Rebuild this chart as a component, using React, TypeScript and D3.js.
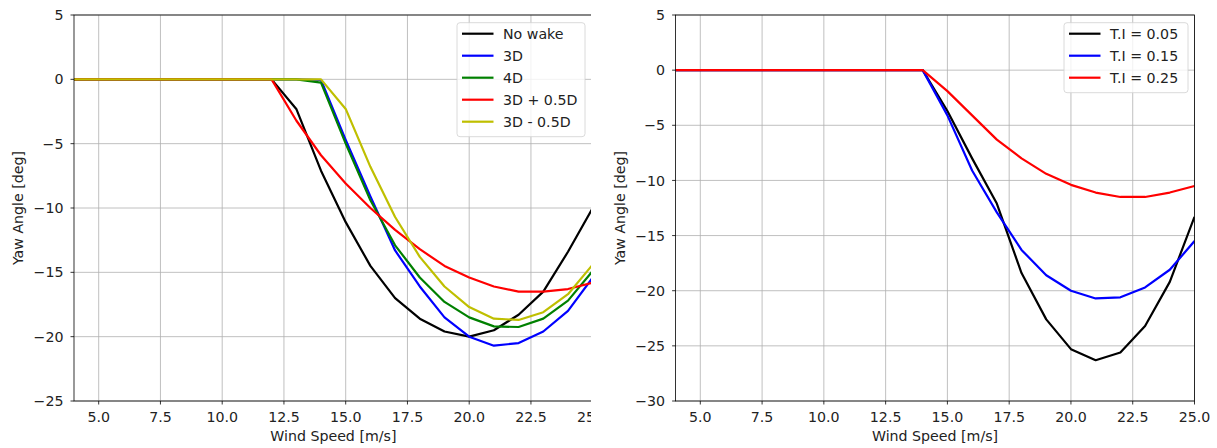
import React from "react";
import * as d3 from "d3";

const windSpeeds = [4, 5, 6, 7, 8, 9, 10, 11, 12, 13, 14, 15, 16, 17, 18, 19, 20, 21, 22, 23, 24, 25];

// Left panel series
const noWake = [0, 0, 0, 0, 0, 0, 0, 0, 0, -2.3, -7.1, -11.1, -14.5, -17.0, -18.6, -19.6, -20.0, -19.5, -18.3, -16.5, -13.4, -10.0];
const d3D = [0, 0, 0, 0, 0, 0, 0, 0, 0, 0, -0.05, -4.7, -9.1, -13.3, -16.1, -18.5, -20.0, -20.7, -20.5, -19.6, -18.0, -15.4];
const d4D = [0, 0, 0, 0, 0, 0, 0, 0, 0, 0, -0.25, -5.0, -9.4, -12.9, -15.4, -17.3, -18.5, -19.2, -19.25, -18.6, -17.2, -14.9];
const d3Dplus = [0, 0, 0, 0, 0, 0, 0, 0, 0, -3.2, -5.9, -8.1, -10.0, -11.7, -13.2, -14.5, -15.4, -16.1, -16.5, -16.5, -16.3, -15.8];
const d3Dminus = [0, 0, 0, 0, 0, 0, 0, 0, 0, 0, 0, -2.3, -6.8, -10.7, -13.8, -16.1, -17.7, -18.6, -18.7, -18.1, -16.7, -14.4];

// Right panel series
const ti005 = [0, 0, 0, 0, 0, 0, 0, 0, 0, 0, 0, -3.7, -8.0, -12.1, -18.4, -22.6, -25.3, -26.3, -25.6, -23.2, -19.2, -13.3];
const ti015 = [0, 0, 0, 0, 0, 0, 0, 0, 0, 0, 0, -4.1, -9.1, -12.9, -16.3, -18.6, -20.0, -20.7, -20.6, -19.7, -18.1, -15.5];
const ti025 = [0, 0, 0, 0, 0, 0, 0, 0, 0, 0, 0, -1.9, -4.1, -6.3, -8.0, -9.4, -10.4, -11.1, -11.5, -11.5, -11.1, -10.5];

const xTicks = [5, 7.5, 10, 12.5, 15, 17.5, 20, 22.5, 25];
const leftYTicks = [5, 0, -5, -10, -15, -20, -25];
const rightYTicks = [5, 0, -5, -10, -15, -20, -25, -30];

const leftSeries = [
  { name: "No wake", values: noWake, color: "#000000" },
  { name: "3D", values: d3D, color: "#0000ff" },
  { name: "4D", values: d4D, color: "#008000" },
  { name: "3D + 0.5D", values: d3Dplus, color: "#ff0000" },
  { name: "3D - 0.5D", values: d3Dminus, color: "#bfbf00" },
];
const rightSeries = [
  { name: "T.I = 0.05", values: ti005, color: "#000000" },
  { name: "T.I = 0.15", values: ti015, color: "#0000ff" },
  { name: "T.I = 0.25", values: ti025, color: "#ff0000" },
];

const FONT = "'DejaVu Sans', sans-serif";
const FS = 14.2;
const fmt = (v: number) => {
  const s = Number.isInteger(v) ? String(Math.abs(v)) : Math.abs(v).toFixed(1);
  return (v < 0 ? "\u2212" : "") + s;
};
const fmtX = (v: number) => v.toFixed(1);

type Series = { name: string; values: number[]; color: string };

function Panel(props: {
  left: number;
  right: number;
  top: number;
  bottom: number;
  yDomain: [number, number];
  yTicks: number[];
  series: Series[];
  legend: { x: number; y: number; w: number };
  id: string;
}) {
  const { left, right, top, bottom, yDomain, yTicks, series, legend, id } = props;
  const x = d3.scaleLinear().domain([4, 25]).range([left, right]);
  const y = d3.scaleLinear().domain(yDomain).range([bottom, top]);
  const line = d3
    .line<number>()
    .x((_, i) => x(windSpeeds[i]))
    .y((d) => y(d));
  const legH = series.length * 22 + 2;
  return (
    <g>
      <defs>
        <clipPath id={id}>
          <rect x={left} y={top} width={right - left} height={bottom - top} />
        </clipPath>
      </defs>
      {xTicks.map((t) => (
        <line key={"gx" + t} x1={x(t)} x2={x(t)} y1={top} y2={bottom} stroke="#b0b0b0" strokeWidth={0.8} />
      ))}
      {yTicks.map((t) => (
        <line key={"gy" + t} x1={left} x2={right} y1={y(t)} y2={y(t)} stroke="#b0b0b0" strokeWidth={0.8} />
      ))}
      <g clipPath={`url(#${id})`}>
        {series.map((s) => (
          <path key={s.name} d={line(s.values) || ""} fill="none" stroke={s.color} strokeWidth={2.2} strokeLinejoin="round" />
        ))}
      </g>
      <rect x={left} y={top} width={right - left} height={bottom - top} fill="none" stroke="#000" strokeWidth={0.8} />
      {xTicks.map((t) => (
        <g key={"tx" + t}>
          <line x1={x(t)} x2={x(t)} y1={bottom} y2={bottom + 3.5} stroke="#000" strokeWidth={0.8} />
          <text x={x(t)} y={421.7} fontSize={FS} fontFamily={FONT} textAnchor="middle" fill="#222">
            {fmtX(t)}
          </text>
        </g>
      ))}
      {yTicks.map((t) => (
        <g key={"ty" + t}>
          <line x1={left - 3.5} x2={left} y1={y(t)} y2={y(t)} stroke="#000" strokeWidth={0.8} />
          <text x={left - 10.5} y={y(t)} dy="0.36em" fontSize={FS} fontFamily={FONT} textAnchor="end" fill="#222">
            {fmt(t)}
          </text>
        </g>
      ))}
      <text x={(left + right) / 2} y={440.5} fontSize={FS} fontFamily={FONT} textAnchor="middle" fill="#222">
        Wind Speed [m/s]
      </text>
      <text
        transform={`translate(${left - 51},${(top + bottom) / 2}) rotate(-90)`}
        fontSize={FS}
        fontFamily={FONT}
        textAnchor="middle"
        fill="#222"
      >
        Yaw Angle [deg]
      </text>
      <rect
        x={legend.x}
        y={legend.y}
        width={legend.w}
        height={legH + 2}
        rx={3}
        fill="#ffffff"
        fillOpacity={0.8}
        stroke="#d0d0d0"
        strokeWidth={0.8}
      />
      {series.map((s, i) => {
        const cy = legend.y + 11 + i * 22;
        return (
          <g key={"lg" + s.name}>
            <line x1={legend.x + 5} x2={legend.x + 36.5} y1={cy} y2={cy} stroke={s.color} strokeWidth={2.2} />
            <text x={legend.x + 46} y={cy} dy="0.36em" fontSize={FS} fontFamily={FONT} fill="#222">
              {s.name}
            </text>
          </g>
        );
      })}
    </g>
  );
}

export default function App() {
  return (
    <svg
      width={1217}
      height={448}
      style={{ position: "absolute", left: 0, top: 0, background: "#fff" }}
      xmlns="http://www.w3.org/2000/svg"
    >
      <rect x={0} y={0} width={1217} height={448} fill="#fff" />
      <defs>
        <clipPath id="leftCrop">
          <rect x={0} y={0} width={591} height={448} />
        </clipPath>
      </defs>
      <g clipPath="url(#leftCrop)">
        <Panel
          id="clipL"
          left={74}
          right={592.7}
          top={15}
          bottom={401}
          yDomain={[-25, 5]}
          yTicks={leftYTicks}
          series={leftSeries}
          legend={{ x: 457, y: 22.7, w: 128 }}
        />
      </g>
      <Panel
        id="clipR"
        left={675.6}
        right={1194.5}
        top={15}
        bottom={401}
        yDomain={[-30, 5]}
        yTicks={rightYTicks}
        series={rightSeries}
        legend={{ x: 1064, y: 22.7, w: 124 }}
      />
    </svg>
  );
}
